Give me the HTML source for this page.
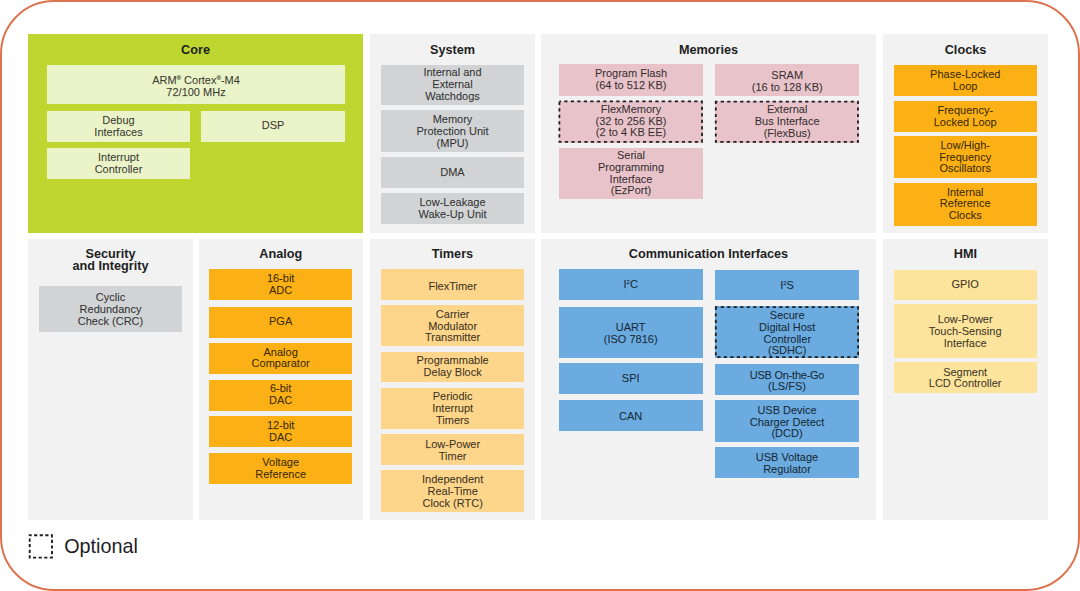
<!DOCTYPE html>
<html><head><meta charset="utf-8"><style>
html,body{margin:0;padding:0;background:#fff;}
body{width:1080px;height:591px;position:relative;overflow:hidden;font-family:"Liberation Sans",sans-serif;}
.frame{position:absolute;left:0;top:0;width:1080px;height:591px;box-sizing:border-box;border:2.2px solid #DC7450;border-radius:54px;}
.p{position:absolute;}
.t{position:absolute;text-align:center;font-weight:bold;font-size:12.7px;line-height:11.6px;color:#1E1E1E;}
.b{position:absolute;display:flex;align-items:center;justify-content:center;text-align:center;font-size:11px;line-height:11.8px;color:rgba(0,0,0,0.74);-webkit-text-stroke:0.25px rgba(0,0,0,0.4);}
.b>div{position:relative;}
.b sup{font-size:6px;line-height:0;vertical-align:4px;}
svg.d{position:absolute;left:0;top:0;overflow:visible;}
.opt{position:absolute;left:64.2px;top:535px;font-size:19.8px;color:#1E1E24;line-height:22px;}
</style></head><body>
<div class="frame"></div>
<div class="p" style="left:28px;top:34px;width:335px;height:199px;background:#BED62F"></div>
<div class="p" style="left:370px;top:34px;width:165px;height:199px;background:#F2F2F2"></div>
<div class="p" style="left:541px;top:34px;width:335px;height:199px;background:#F2F2F2"></div>
<div class="p" style="left:883px;top:34px;width:165px;height:199px;background:#F2F2F2"></div>
<div class="p" style="left:28px;top:239px;width:165px;height:280.5px;background:#F2F2F2"></div>
<div class="p" style="left:198.5px;top:239px;width:164.5px;height:280.5px;background:#F2F2F2"></div>
<div class="p" style="left:370px;top:239px;width:165px;height:280.5px;background:#F2F2F2"></div>
<div class="p" style="left:541px;top:239px;width:335px;height:280.5px;background:#F2F2F2"></div>
<div class="p" style="left:883px;top:239px;width:165px;height:280.5px;background:#F2F2F2"></div>
<div class="t" style="left:28px;width:335px;top:45px">Core</div>
<div class="t" style="left:370px;width:165px;top:45px">System</div>
<div class="t" style="left:541px;width:335px;top:45px">Memories</div>
<div class="t" style="left:883px;width:165px;top:45px">Clocks</div>
<div class="t" style="left:28px;width:165px;top:249px">Security<br>and Integrity</div>
<div class="t" style="left:198.5px;width:164.5px;top:249px">Analog</div>
<div class="t" style="left:370px;width:165px;top:249px">Timers</div>
<div class="t" style="left:541px;width:335px;top:249px">Communication Interfaces</div>
<div class="t" style="left:883px;width:165px;top:249px">HMI</div>
<div class="b" style="left:47px;top:65px;width:298px;height:39px;background:#EBF3C9"><div style="top:2px">ARM<sup>®</sup> Cortex<sup>®</sup>-M4<br>72/100 MHz</div></div>
<div class="b" style="left:47px;top:111px;width:143px;height:31.4px;background:#EBF3C9"><div>Debug<br>Interfaces</div></div>
<div class="b" style="left:201px;top:111px;width:144px;height:31.4px;background:#EBF3C9"><div style="top:-1px">DSP</div></div>
<div class="b" style="left:47px;top:148px;width:143px;height:31px;background:#EBF3C9"><div>Interrupt<br>Controller</div></div>
<div class="b" style="left:381px;top:65px;width:143px;height:40px;background:#D1D3D4"><div>Internal and<br>External<br>Watchdogs</div></div>
<div class="b" style="left:381px;top:110px;width:143px;height:41.5px;background:#D1D3D4"><div style="top:1px">Memory<br>Protection Unit<br>(MPU)</div></div>
<div class="b" style="left:381px;top:157px;width:143px;height:31px;background:#D1D3D4"><div>DMA</div></div>
<div class="b" style="left:381px;top:193.2px;width:143px;height:30.8px;background:#D1D3D4"><div>Low-Leakage<br>Wake-Up Unit</div></div>
<div class="b" style="left:559px;top:64.3px;width:144px;height:31.7px;background:#E8C4CA"><div>Program Flash<br>(64 to 512 KB)</div></div>
<div class="b" style="left:559px;top:100.5px;width:144px;height:42px;background:#E8C4CA"><div>FlexMemory<br>(32 to 256 KB)<br>(2 to 4 KB EE)</div></div>
<div class="b" style="left:559px;top:147.8px;width:144px;height:50.8px;background:#E8C4CA"><div style="top:0.5px">Serial<br>Programming<br>Interface<br>(EzPort)</div></div>
<div class="b" style="left:715.4px;top:64.3px;width:143.6px;height:31.7px;background:#E8C4CA"><div style="top:1.5px">SRAM<br>(16 to 128 KB)</div></div>
<div class="b" style="left:715.4px;top:100.8px;width:143.6px;height:41.8px;background:#E8C4CA"><div>External<br>Bus Interface<br>(FlexBus)</div></div>
<div class="b" style="left:893.7px;top:65px;width:143.1px;height:31.2px;background:#FBB116"><div>Phase-Locked<br>Loop</div></div>
<div class="b" style="left:893.7px;top:101px;width:143.1px;height:30.5px;background:#FBB116"><div style="top:1px">Frequency-<br>Locked Loop</div></div>
<div class="b" style="left:893.7px;top:136.2px;width:143.1px;height:41.8px;background:#FBB116"><div style="top:0.5px">Low/High-<br>Frequency<br>Oscillators</div></div>
<div class="b" style="left:893.7px;top:182.8px;width:143.1px;height:42.9px;background:#FBB116"><div>Internal<br>Reference<br>Clocks</div></div>
<div class="b" style="left:39px;top:286.4px;width:143px;height:45.6px;background:#D1D3D4"><div style="top:1px">Cyclic<br>Redundancy<br>Check (CRC)</div></div>
<div class="b" style="left:209px;top:269.1px;width:143.3px;height:30.9px;background:#FBB116"><div>16-bit<br>ADC</div></div>
<div class="b" style="left:209px;top:306.5px;width:143.3px;height:31px;background:#FBB116"><div>PGA</div></div>
<div class="b" style="left:209px;top:343.2px;width:143.3px;height:30.6px;background:#FBB116"><div>Analog<br>Comparator</div></div>
<div class="b" style="left:209px;top:380px;width:143.3px;height:30.5px;background:#FBB116"><div>6-bit<br>DAC</div></div>
<div class="b" style="left:209px;top:416.4px;width:143.3px;height:31.1px;background:#FBB116"><div>12-bit<br>DAC</div></div>
<div class="b" style="left:209px;top:453px;width:143.3px;height:31.2px;background:#FBB116"><div>Voltage<br>Reference</div></div>
<div class="b" style="left:381px;top:269.1px;width:143.3px;height:31.1px;background:#FDD58B"><div style="top:2px">FlexTimer</div></div>
<div class="b" style="left:381px;top:304.6px;width:143.3px;height:41.8px;background:#FDD58B"><div style="top:1px">Carrier<br>Modulator<br>Transmitter</div></div>
<div class="b" style="left:381px;top:351.5px;width:143.3px;height:30.7px;background:#FDD58B"><div>Programmable<br>Delay Block</div></div>
<div class="b" style="left:381px;top:387.5px;width:143.3px;height:41.5px;background:#FDD58B"><div style="top:0.5px">Periodic<br>Interrupt<br>Timers</div></div>
<div class="b" style="left:381px;top:434px;width:143.3px;height:31px;background:#FDD58B"><div style="top:1px">Low-Power<br>Timer</div></div>
<div class="b" style="left:381px;top:470px;width:143.3px;height:42px;background:#FDD58B"><div style="top:1px">Independent<br>Real-Time<br>Clock (RTC)</div></div>
<div class="b" style="left:558.7px;top:269.2px;width:144px;height:30.8px;background:#6BABE0"><div>I<sup>2</sup>C</div></div>
<div class="b" style="left:558.7px;top:306.6px;width:144px;height:51.4px;background:#6BABE0"><div style="top:2px">UART<br>(ISO 7816)</div></div>
<div class="b" style="left:558.7px;top:363.1px;width:144px;height:30.9px;background:#6BABE0"><div>SPI</div></div>
<div class="b" style="left:558.7px;top:400.2px;width:144px;height:31px;background:#6BABE0"><div style="top:1px">CAN</div></div>
<div class="b" style="left:715.4px;top:269.5px;width:143.3px;height:30px;background:#6BABE0"><div style="top:1px">I<sup>2</sup>S</div></div>
<div class="b" style="left:715.4px;top:306.3px;width:143.7px;height:51.6px;background:#6BABE0"><div style="top:1.5px">Secure<br>Digital Host<br>Controller<br>(SDHC)</div></div>
<div class="b" style="left:715.4px;top:364px;width:143.3px;height:30.8px;background:#6BABE0"><div style="top:2px"><span style="letter-spacing:-0.25px">USB On-the-Go</span><br>(LS/FS)</div></div>
<div class="b" style="left:715.4px;top:400px;width:143.3px;height:42px;background:#6BABE0"><div style="top:1.5px">USB Device<br>Charger Detect<br>(DCD)</div></div>
<div class="b" style="left:715.4px;top:447px;width:143.3px;height:31px;background:#6BABE0"><div style="top:1px">USB Voltage<br>Regulator</div></div>
<div class="b" style="left:893.5px;top:269.5px;width:143.3px;height:30.5px;background:#FDE49D"><div>GPIO</div></div>
<div class="b" style="left:893.5px;top:304.3px;width:143.3px;height:53.5px;background:#FDE49D"><div style="top:1px">Low-Power<br>Touch-Sensing<br>Interface</div></div>
<div class="b" style="left:893.5px;top:362.2px;width:143.3px;height:30.6px;background:#FDE49D"><div style="top:1px">Segment<br>LCD Controller</div></div>
<svg class="d" width="1080" height="591"><rect x="559.4" y="101.4" width="142.6" height="40.4" fill="none" stroke="#1E1E1E" stroke-width="1.8" stroke-dasharray="3.2 3.3" stroke-dashoffset="1.6"/><rect x="715.8" y="101.7" width="142.2" height="40.2" fill="none" stroke="#1E1E1E" stroke-width="1.8" stroke-dasharray="3.2 3.3" stroke-dashoffset="1.6"/><rect x="715.8" y="307.2" width="142.3" height="50" fill="none" stroke="#1E1E1E" stroke-width="1.8" stroke-dasharray="3.2 3.3" stroke-dashoffset="1.6"/><rect x="29.7" y="535.3" width="22.3" height="22.3" fill="none" stroke="#1E1E1E" stroke-width="1.9" stroke-dasharray="3.2 2.4" stroke-dashoffset="1.2"/></svg>
<div class="opt">Optional</div>
</body></html>
